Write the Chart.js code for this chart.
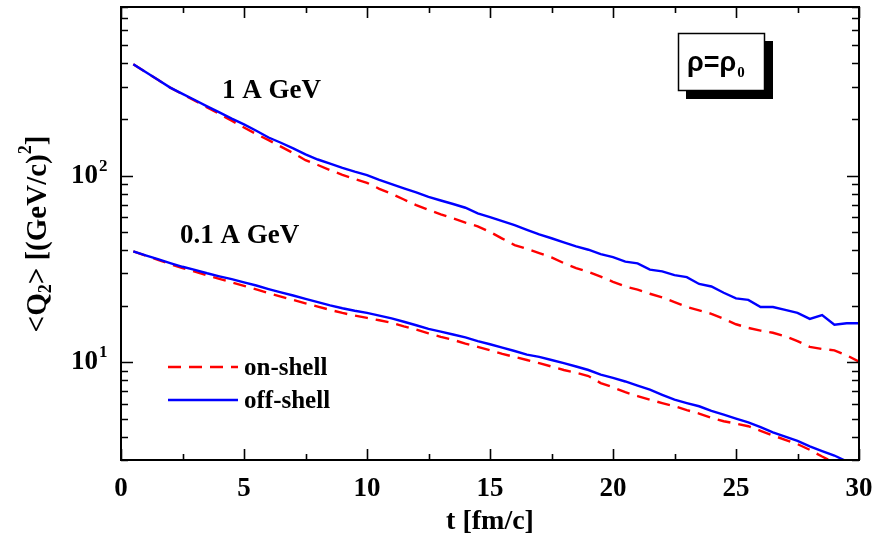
<!DOCTYPE html>
<html>
<head>
<meta charset="utf-8">
<script src="https://cdn.jsdelivr.net/npm/chart.js@4.4.1/dist/chart.umd.min.js"></script>
<style>
  html, body { margin: 0; padding: 0; background: #fff; }
</style>
</head>
<body>
<canvas id="chart" width="877" height="544"></canvas>
<script>
// time grid [fm/c]
const times = [0.5, 1, 1.5, 2, 2.5, 3, 3.5, 4, 4.5, 5, 5.5, 6, 6.5, 7, 7.5, 8, 8.5, 9, 9.5, 10,
  10.5, 11, 11.5, 12, 12.5, 13, 13.5, 14, 14.5, 15, 15.5, 16, 16.5, 17, 17.5, 18, 18.5, 19, 19.5, 20,
  20.5, 21, 21.5, 22, 22.5, 23, 23.5, 24, 24.5, 25, 25.5, 26, 26.5, 27, 27.5, 28, 28.5, 29, 29.5, 30];

// <Q2> for 1 A GeV
const offShell1 = [395, 359, 326, 296, 274, 254, 235, 218, 202, 188, 174, 160, 150, 140, 130, 122, 116, 110, 105, 100.7,
  95, 90, 85.5, 81.3, 77, 73.6, 70.5, 67.3, 62.8, 60, 57, 54.3, 51.3, 48.4, 46.2, 43.9, 41.8, 40.1, 38, 36.6,
  34.6, 33.9, 31.4, 30.7, 29.3, 28.6, 26.3, 25.5, 23.6, 22, 21.6, 19.8, 19.8, 19.1, 18.4, 17.1, 17.9, 15.9, 16.2, 16.2];
const onShell1 = [395, 359, 326, 296, 273, 252, 232, 214, 197, 181, 167, 155, 143, 132, 121, 114, 107, 101, 96, 91.5,
  85, 80, 74.5, 69.5, 65.5, 62, 59, 56, 53.5, 50, 46, 42.5, 40.5, 38.5, 36.5, 34, 32, 30.5, 28.8, 27,
  25.5, 24.5, 23.3, 22.3, 21, 19.8, 19, 18.2, 17.1, 16, 15.3, 14.8, 14.4, 13.8, 13, 12.1, 11.8, 11.6, 10.9, 10.1];

// <Q2> for 0.1 A GeV
const offShell01 = [39.3, 37.4, 35.7, 34, 32.5, 31.3, 30, 28.9, 27.9, 26.8, 25.8, 24.7, 23.7, 22.8, 21.9, 21, 20.2, 19.5, 18.9, 18.4,
  17.8, 17.2, 16.5, 15.8, 15.1, 14.6, 14.1, 13.6, 13, 12.5, 12, 11.5, 11, 10.7, 10.3, 9.9, 9.5, 9.1, 8.6, 8.25,
  7.9, 7.5, 7.14, 6.7, 6.31, 6.05, 5.82, 5.5, 5.25, 5, 4.77, 4.5, 4.22, 4, 3.8, 3.55, 3.35, 3.17, 2.95, 2.75];
const onShell01 = [39.3, 37.3, 35.4, 33.6, 32, 30.6, 29.2, 28, 26.8, 25.7, 24.6, 23.5, 22.5, 21.6, 20.7, 19.9, 19.1, 18.4, 17.8, 17.3,
  16.8, 16.3, 15.6, 15, 14.3, 13.7, 13.2, 12.6, 12.1, 11.6, 11.1, 10.7, 10.3, 9.9, 9.5, 9.1, 8.8, 8.45, 7.75, 7.35,
  6.92, 6.6, 6.31, 6.05, 5.82, 5.55, 5.32, 5.05, 4.84, 4.7, 4.55, 4.3, 4.06, 3.85, 3.65, 3.4, 3.13, 2.9, 2.7, 2.5];

// ticks
const xMajor = [0, 5, 10, 15, 20, 25, 30];
const xMinor = [2.5, 7.5, 12.5, 17.5, 22.5, 27.5];
const yMajor = [10, 100];
const yMajorExp = ['1', '2'];
const yMinor = [3, 4, 5, 6, 7, 8, 9, 20, 30, 40, 50, 60, 70, 80, 90, 200, 300, 400, 500, 600, 700, 800];

const RED = '#ff0000';
const BLUE = '#0000ff';
const SERIF = '"Liberation Serif", "Times New Roman", serif';

const pts = (vals) => vals.map((v, i) => ({ x: times[i], y: v }));

// frame, mirrored ticks, labels drawn on top of the chart
const decorations = {
  id: 'decorations',
  afterDraw(chart) {
    const { ctx, chartArea: a, scales: { x, y } } = chart;
    ctx.save();
    ctx.strokeStyle = '#000';
    ctx.fillStyle = '#000';

    // axis frame
    ctx.lineWidth = 2;
    ctx.strokeRect(a.left, a.top, a.right - a.left, a.bottom - a.top);

    // tick marks, inward on all four sides
    ctx.lineWidth = 1.6;
    const xTick = (v, len) => {
      const px = Math.round(x.getPixelForValue(v)) + 0.5;
      ctx.beginPath();
      ctx.moveTo(px, a.bottom); ctx.lineTo(px, a.bottom - len);
      ctx.moveTo(px, a.top); ctx.lineTo(px, a.top + len);
      ctx.stroke();
    };
    const yTick = (v, len) => {
      const py = Math.round(y.getPixelForValue(v)) + 0.5;
      ctx.beginPath();
      ctx.moveTo(a.left, py); ctx.lineTo(a.left + len, py);
      ctx.moveTo(a.right, py); ctx.lineTo(a.right - len, py);
      ctx.stroke();
    };
    xMajor.forEach(v => xTick(v, 11));
    xMinor.forEach(v => xTick(v, 6));
    yMajor.forEach(v => yTick(v, 12));
    yMinor.forEach(v => yTick(v, 7));

    // y tick labels 10^1, 10^2
    yMajor.forEach((v, i) => {
      const py = y.getPixelForValue(v);
      ctx.font = 'bold 27px ' + SERIF;
      ctx.textAlign = 'right';
      ctx.textBaseline = 'alphabetic';
      ctx.fillText('10', 98, py + 7);
      ctx.font = 'bold 17px ' + SERIF;
      ctx.textAlign = 'left';
      ctx.fillText(yMajorExp[i], 99, py - 5);
    });

    // y axis title <Q2> [(GeV/c)^2]
    ctx.save();
    ctx.translate(46, 234);
    ctx.rotate(-Math.PI / 2);
    const parts = [
      ['<Q', 29, 0], ['2', 18, 5], ['> [(GeV/c)', 29, 0], ['2', 18, -15], [']', 29, 0]
    ];
    let total = 0;
    parts.forEach(p => { ctx.font = 'bold ' + p[1] + 'px ' + SERIF; total += ctx.measureText(p[0]).width; });
    let cx = -total / 2;
    ctx.textAlign = 'left';
    ctx.textBaseline = 'alphabetic';
    parts.forEach(p => {
      ctx.font = 'bold ' + p[1] + 'px ' + SERIF;
      ctx.fillText(p[0], cx, p[2]);
      cx += ctx.measureText(p[0]).width;
    });
    ctx.restore();

    // curve labels
    ctx.font = 'bold 27px ' + SERIF;
    ctx.textAlign = 'left';
    ctx.fillText('1 A GeV', 222, 98);
    ctx.fillText('0.1 A GeV', 180, 243);

    // legend
    ctx.lineWidth = 2.4;
    ctx.strokeStyle = RED;
    ctx.setLineDash([13, 8]);
    ctx.beginPath(); ctx.moveTo(168, 367); ctx.lineTo(238, 367); ctx.stroke();
    ctx.setLineDash([]);
    ctx.strokeStyle = BLUE;
    ctx.beginPath(); ctx.moveTo(168, 400); ctx.lineTo(238, 400); ctx.stroke();
    ctx.font = 'bold 25px ' + SERIF;
    ctx.fillStyle = '#000';
    ctx.fillText('on-shell', 244, 375);
    ctx.fillText('off-shell', 244, 408);

    // rho box with shadow
    ctx.fillStyle = '#000';
    ctx.fillRect(686, 41, 87, 58);
    ctx.fillStyle = '#fff';
    ctx.fillRect(678, 33, 87, 58);
    ctx.strokeStyle = '#000';
    ctx.lineWidth = 1.5;
    ctx.strokeRect(678.5, 33.5, 86, 57);
    ctx.fillStyle = '#000';
    ctx.font = 'bold 27px "Liberation Sans", Arial, sans-serif';
    ctx.fillText('\u03c1=\u03c1', 687, 71);
    const w = ctx.measureText('\u03c1=\u03c1').width;
    ctx.font = 'bold 15px ' + SERIF;
    ctx.fillText('0', 687 + w + 1, 77);

    ctx.restore();
  }
};

new Chart(document.getElementById('chart'), {
  type: 'line',
  data: {
    datasets: [
      { label: 'off-shell 1 A GeV', data: pts(offShell1), borderColor: BLUE, borderWidth: 2.4 },
      { label: 'off-shell 0.1 A GeV', data: pts(offShell01), borderColor: BLUE, borderWidth: 2.4 },
      { label: 'on-shell 1 A GeV', data: pts(onShell1), borderColor: RED, borderWidth: 2.4, borderDash: [13, 8] },
      { label: 'on-shell 0.1 A GeV', data: pts(onShell01), borderColor: RED, borderWidth: 2.4, borderDash: [13, 8] }
    ]
  },
  options: {
    responsive: false,
    animation: false,
    layout: { padding: { left: 0, right: 18, top: 7, bottom: 0 } },
    elements: { point: { radius: 0 }, line: { tension: 0 } },
    plugins: { legend: { display: false }, tooltip: { enabled: false } },
    scales: {
      x: {
        type: 'linear',
        min: 0,
        max: 30,
        grid: { display: false, drawTicks: false },
        border: { display: false },
        ticks: {
          stepSize: 5,
          padding: 13,
          color: '#000',
          maxRotation: 0,
          font: { family: SERIF, size: 27, weight: 'bold' }
        },
        title: {
          display: true,
          text: 't [fm/c]',
          color: '#000',
          padding: { top: 0, bottom: 5 },
          font: { family: SERIF, size: 28, weight: 'bold' }
        },
        afterFit(scale) {
          scale.height = 84;
          scale.paddingLeft = 0;
          scale.paddingRight = 0;
        }
      },
      y: {
        type: 'logarithmic',
        min: 3,
        max: 800,
        grid: { display: false, drawTicks: false },
        border: { display: false },
        ticks: { display: false },
        afterFit(scale) { scale.width = 121; }
      }
    }
  },
  plugins: [decorations]
});
</script>
</body>
</html>
